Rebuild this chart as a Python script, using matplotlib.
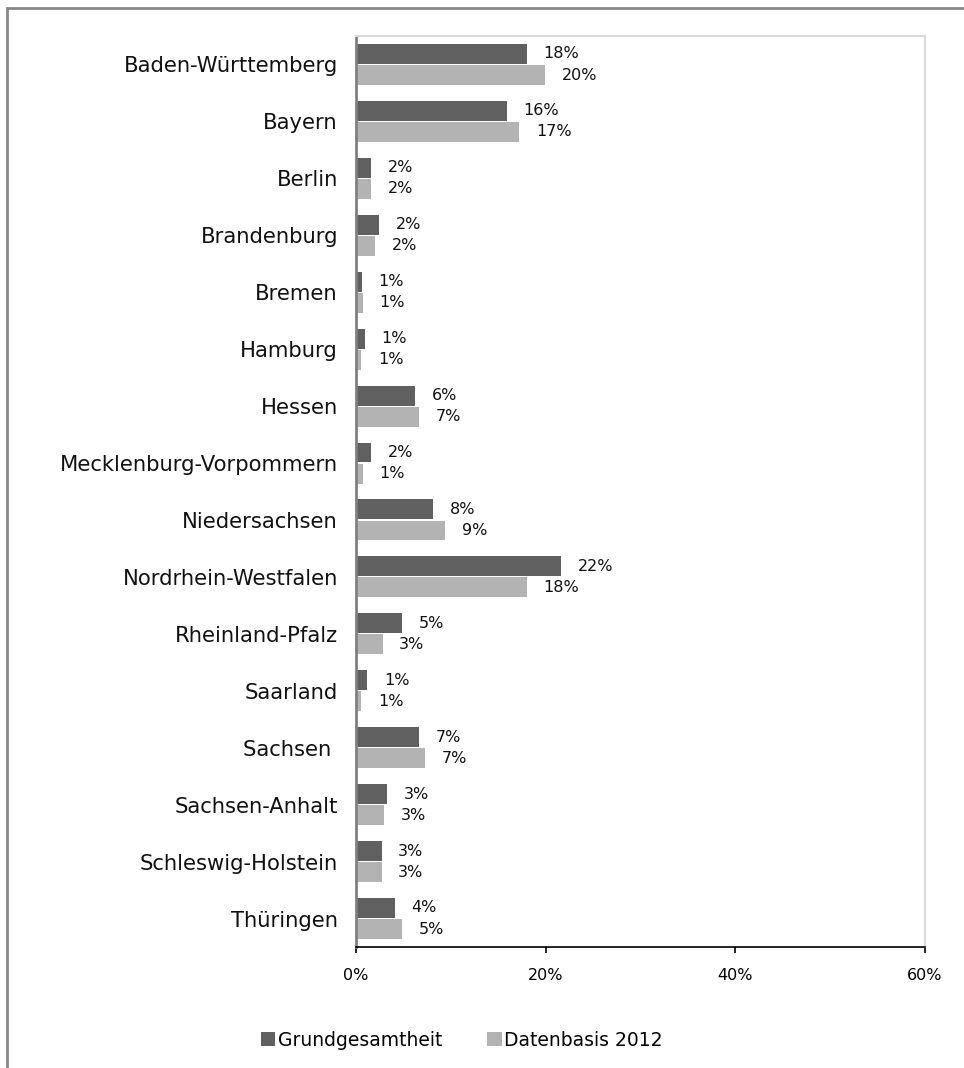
import matplotlib.pyplot as plt
import matplotlib.patches as mpatches
import numpy as np

# Bundesländer and shares (%)
states = ["Baden-Württemberg", "Bayern", "Berlin", "Brandenburg", "Bremen",
          "Hamburg", "Hessen", "Mecklenburg-Vorpommern", "Niedersachsen",
          "Nordrhein-Westfalen", "Rheinland-Pfalz", "Saarland", "Sachsen ",
          "Sachsen-Anhalt", "Schleswig-Holstein", "Thüringen"]
grundgesamtheit = [18.0, 15.9, 1.6, 2.4, 0.6, 0.95, 6.2, 1.6, 8.1,
                   21.6, 4.9, 1.2, 6.6, 3.3, 2.7, 4.1]
datenbasis = [19.9, 17.2, 1.6, 2.0, 0.7, 0.55, 6.6, 0.7, 9.4,
              18.0, 2.8, 0.55, 7.3, 3.0, 2.7, 4.9]
xticks = [0, 20, 40, 60]

dark = "#606060"
light = "#b3b3b3"

fig = plt.figure(figsize=(9.64, 10.68), dpi=100)
ax = fig.add_axes([356 / 964, 1 - 947 / 1068, (925 - 356) / 964, (947 - 36) / 1068])

y = np.arange(len(states))
h = 0.35
ax.barh(y - 0.185, grundgesamtheit, height=h, color=dark, label="Grundgesamtheit")
ax.barh(y + 0.185, datenbasis, height=h, color=light, label="Datenbasis 2012")

for yi, v in zip(y - 0.185, grundgesamtheit):
    ax.annotate(f"{v:.0f}%", (v, yi), xytext=(12, 0), textcoords="offset points",
                va="center", ha="left", fontsize=11.5, color="#111111")
for yi, v in zip(y + 0.185, datenbasis):
    ax.annotate(f"{v:.0f}%", (v, yi), xytext=(12, 0), textcoords="offset points",
                va="center", ha="left", fontsize=11.5, color="#111111")

ax.set_ylim(len(states) - 0.5, -0.5)
ax.set_xlim(0, 60)
ax.set_yticks(y)
ax.set_yticklabels(states, fontsize=15.2, color="#111111")
ax.set_xticks(xticks)
ax.set_xticklabels([f"{t}%" for t in xticks], fontsize=11.5)
ax.tick_params(axis="y", length=0, pad=13)
ax.tick_params(axis="x", direction="out", length=4, width=1.2, pad=11, color="black")

for side in ["top", "right"]:
    ax.spines[side].set_color("#d9d9d9")
    ax.spines[side].set_linewidth(1.5)
ax.spines["left"].set_color("#808080")
ax.spines["left"].set_linewidth(2)
ax.spines["bottom"].set_color("black")
ax.spines["bottom"].set_linewidth(1.2)

fig.legend(loc="center", bbox_to_anchor=(462 / 964, 1 - 1040 / 1068), ncol=2,
           frameon=False, fontsize=13.5, handlelength=0.75, handleheight=0.85,
           handletextpad=0.15, columnspacing=2.4)

# outer frame (top and left edges)
fig.patches.append(mpatches.Rectangle((6.5 / 964, -0.1), 1.2, 1 - 7.5 / 1068 + 0.1,
                                      transform=fig.transFigure, fill=False,
                                      edgecolor="#888888", linewidth=2, clip_on=False))

plt.savefig("out.png", dpi=100)
